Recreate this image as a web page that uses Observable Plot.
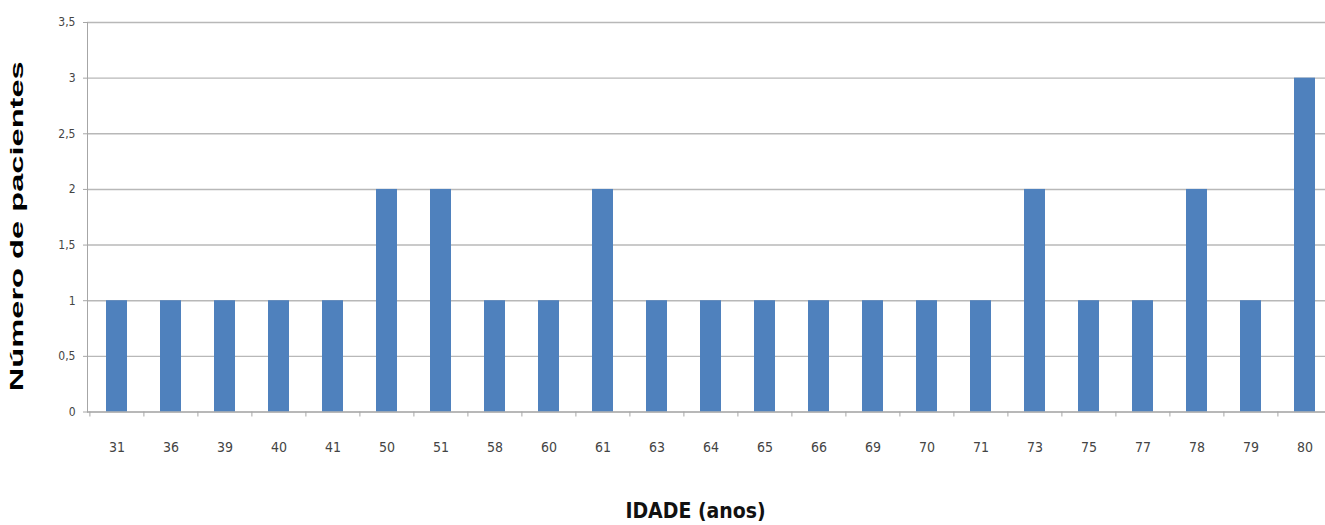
<!DOCTYPE html>
<html>
<head>
<meta charset="utf-8">
<script src="https://cdn.jsdelivr.net/npm/d3@7"></script>
<script src="https://cdn.jsdelivr.net/npm/@observablehq/plot@0.6"></script>
<style>
  html, body { margin: 0; padding: 0; background: #fff; }
  #chart svg { display: block; }
</style>
</head>
<body>
<div id="chart"></div>
<script>
const ages = ["31","36","39","40","41","50","51","58","60","61","63","64","65","66","69","70","71","73","75","77","78","79","80"];
const counts = [1,1,1,1,1,2,2,1,1,2,1,1,1,1,1,1,1,2,1,1,2,1,3];
const yTicks = [0,0.5,1,1.5,2,2.5,3,3.5];
const yTitle = "Número de pacientes";
const xTitle = "IDADE (anos)";

const data = ages.map((a, i) => ({age: a, n: counts[i]}));
const narrow = "'Liberation Sans Narrow', 'DejaVu Sans Condensed', 'Arial Narrow', sans-serif";
const fmt = d => String(d).replace(".", ",");

const left = 87, right = 1334;
const step = (right - left) / ages.length;

const chart = Plot.plot({
  width: 1325,
  height: 525,
  marginTop: 22,
  marginLeft: left,
  marginRight: 0,
  marginBottom: 113.5,
  style: {fontFamily: narrow, background: "#fff"},
  x: {domain: ages, range: [left, right], paddingInner: 0.61, paddingOuter: 0.305},
  y: {domain: [0, 3.5]},
  marks: [
    Plot.gridY(yTicks, {stroke: "#b8b8b8", strokeOpacity: 1, strokeWidth: 1.4}),
    Plot.barY(data, {x: "age", y: "n", fill: "#4F81BD"}),
    Plot.frame({anchor: "left", stroke: "#a6a6a6"}),
    Plot.axisY(yTicks, {
      tickFormat: fmt, tickSize: 4, tickPadding: 8, stroke: "#a6a6a6",
      fontSize: 12, fill: "#444",
      label: yTitle, labelAnchor: "center", labelArrow: "none", labelOffset: 78
    }),
    Plot.axisX({tickSize: 5, dx: -step / 2, tickFormat: () => "", stroke: "#a6a6a6", label: null}),
    Plot.axisX({
      tickSize: 0, tickPadding: 30, fontSize: 14, fill: "#444",
      label: xTitle, labelAnchor: "center", labelArrow: "none", labelOffset: 106
    }),
    Plot.ruleY([0], {stroke: "#a6a6a6"})
  ]
});

document.getElementById("chart").appendChild(chart);

const svg = d3.select(chart);
svg.selectAll("g[aria-label='y-axis label'] text")
  .attr("font-family", "'Liberation Sans', Arial, sans-serif")
  .attr("font-weight", "bold")
  .attr("font-size", 19)
  .attr("fill", "#000")
  .attr("textLength", 330)
  .attr("lengthAdjust", "spacingAndGlyphs")
  .attr("dx", "-9");
svg.selectAll("g[aria-label='x-axis label'] text")
  .attr("font-family", "'Liberation Sans Narrow', 'DejaVu Sans Condensed', sans-serif")
  .attr("font-weight", "bold")
  .attr("font-size", 21)
  .attr("fill", "#111")
  .attr("dx", "-11");
</script>
</body>
</html>
